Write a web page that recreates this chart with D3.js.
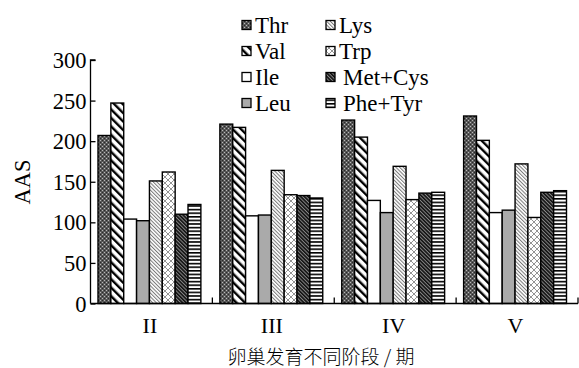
<!DOCTYPE html>
<html>
<head>
<meta charset="utf-8">
<script src="https://cdn.jsdelivr.net/npm/d3@7"></script>
<style>
  html, body { margin: 0; padding: 0; background: #fff; }
  svg text { font-family: "Liberation Serif", "Times New Roman", serif; fill: #000; }
</style>
</head>
<body>
<svg id="chart" width="579" height="368"></svg>
<script>
// Ovarian development stages and amino acid score (AAS) per essential amino acid
const stages = ["II", "III", "IV", "V"];
const aminoAcids = ["Thr", "Val", "Ile", "Leu", "Lys", "Trp", "Met+Cys", "Phe+Tyr"];
const thr    = [207, 221, 226, 231];
const val    = [247, 217, 205, 201];
const ile    = [104, 108, 127, 112];
const leu    = [102, 109, 112, 115];
const lys    = [151, 164, 169, 172];
const trp    = [162, 134, 128, 106];
const metCys = [110, 133, 136, 137];
const pheTyr = [122, 130, 137, 139];
const yTicks = [0, 50, 100, 150, 200, 250, 300];
const xTitle = "卵巢发育不同阶段 / 期";
const yTitle = "AAS";

const seriesValues = [thr, val, ile, leu, lys, trp, metCys, pheTyr];

const svg = d3.select("#chart");
const plot = { left: 90.5, right: 578, top: 60, bottom: 303.5 };

const x = d3.scaleBand().domain(stages).range([plot.left, plot.right]).padding(0);
const gw = x.bandwidth();
const xInner = d3.scaleBand().domain(aminoAcids).range([7.5, gw - 11.5]).padding(0);
const y = d3.scaleLinear().domain([0, 300]).range([plot.bottom, plot.top]);

// Fill patterns for each amino acid
const defs = svg.append("defs");
function pat(id, w, h, rot) {
  const p = defs.append("pattern").attr("id", id).attr("patternUnits", "userSpaceOnUse")
    .attr("width", w).attr("height", h);
  if (rot) p.attr("patternTransform", `rotate(${rot})`);
  return p;
}
// Thr: dark dotted texture
let p = pat("p-thr", 4, 4);
p.append("rect").attr("width", 4).attr("height", 4).attr("fill", "#585858");
[[0, 0], [2, 2]].forEach(([a, b]) => p.append("rect").attr("x", a).attr("y", b).attr("width", 1).attr("height", 1).attr("fill", "#b8b8b8"));
[[2, 0], [0, 2]].forEach(([a, b]) => p.append("rect").attr("x", a).attr("y", b).attr("width", 1).attr("height", 1).attr("fill", "#2a2a2a"));
// Val: wide "\" stripes
p = pat("p-val", 6, 6, -45);
p.append("rect").attr("width", 6).attr("height", 6).attr("fill", "#fff");
p.append("rect").attr("width", 2.4).attr("height", 6).attr("fill", "#000");
// Ile: plain white
p = pat("p-ile", 4, 4);
p.append("rect").attr("width", 4).attr("height", 4).attr("fill", "#fff");
// Leu: solid grey
p = pat("p-leu", 4, 4);
p.append("rect").attr("width", 4).attr("height", 4).attr("fill", "#aaaaaa");
// Lys: fine grey "\" hatch
p = pat("p-lys", 2.6, 2.6, -45);
p.append("rect").attr("width", 2.6).attr("height", 2.6).attr("fill", "#fff");
p.append("rect").attr("width", 1).attr("height", 2.6).attr("fill", "#777");
// Trp: zig-zag lattice on white
p = pat("p-trp", 6, 6);
p.append("rect").attr("width", 6).attr("height", 6).attr("fill", "#fff");
p.append("path").attr("d", "M0,0 L3,3 L6,0 M0,6 L3,3 L6,6").attr("stroke", "#666").attr("stroke-width", 0.7).attr("fill", "none");
// Met+Cys: dense dark "\" hatch
p = pat("p-met", 2.6, 2.6, -45);
p.append("rect").attr("width", 2.6).attr("height", 2.6).attr("fill", "#888");
p.append("rect").attr("width", 1.6).attr("height", 2.6).attr("fill", "#111");
// Phe+Tyr: horizontal stripes
p = pat("p-phe", 4, 3.6);
p.append("rect").attr("width", 4).attr("height", 3.6).attr("fill", "#fff");
p.append("rect").attr("width", 4).attr("height", 1.6).attr("fill", "#000");

const fills = ["url(#p-thr)", "url(#p-val)", "url(#p-ile)", "url(#p-leu)",
               "url(#p-lys)", "url(#p-trp)", "url(#p-met)", "url(#p-phe)"];
const color = d3.scaleOrdinal().domain(aminoAcids).range(fills);

// Bars
const rows = [];
stages.forEach((s, i) => aminoAcids.forEach((a, j) => rows.push({ stage: s, acid: a, value: seriesValues[j][i] })));
svg.append("g").selectAll("rect").data(rows).join("rect")
  .attr("x", d => x(d.stage) + xInner(d.acid))
  .attr("y", d => y(d.value))
  .attr("width", xInner.bandwidth())
  .attr("height", d => y(0) - y(d.value))
  .attr("fill", d => color(d.acid))
  .attr("stroke", "#000")
  .attr("stroke-width", 1.4);

// Y axis with inward ticks
const yAxis = svg.append("g").attr("transform", `translate(${plot.left},0)`)
  .call(d3.axisRight(y).tickValues(yTicks).tickSize(5).tickFormat(d3.format("d")));
yAxis.attr("font-family", null);
yAxis.select(".domain").attr("d", `M5,${plot.top}H0V${plot.bottom}`).attr("stroke-width", 1.3);
yAxis.selectAll(".tick line").attr("stroke-width", 1.3);
yAxis.selectAll(".tick text").attr("x", -4).attr("dy", "0.34em").attr("text-anchor", "end")
  .attr("font-size", 22.5);

// X axis: boundary ticks pointing upward, labels at group centres
const xg = svg.append("g");
xg.append("line").attr("x1", plot.left).attr("x2", plot.right)
  .attr("y1", plot.bottom).attr("y2", plot.bottom).attr("stroke", "#000").attr("stroke-width", 1.3);
const bounds = stages.map(s => x(s)).concat([plot.right]);
xg.selectAll("line.b").data(bounds.slice(1)).join("line").attr("class", "b")
  .attr("x1", d => d).attr("x2", d => d)
  .attr("y1", plot.bottom).attr("y2", plot.bottom - 6)
  .attr("stroke", "#000").attr("stroke-width", 1.3);
xg.selectAll("text").data(stages).join("text")
  .attr("x", d => x(d) + gw / 2 - 1.5)
  .attr("y", 333)
  .attr("text-anchor", "middle")
  .attr("font-size", 22)
  .text(d => d);

// Axis titles
svg.append("text")
  .attr("transform", "translate(30,182) rotate(-90)")
  .attr("text-anchor", "middle")
  .attr("font-size", 22.5)
  .text(yTitle);
svg.append("text")
  .attr("x", 321).attr("y", 364)
  .attr("text-anchor", "middle")
  .attr("font-size", 19)
  .style("font-family", "'Noto Sans CJK SC', sans-serif")
  .style("font-weight", 300)
  .text(xTitle);

// Legend in two columns of four
const leg = svg.append("g");
aminoAcids.forEach((a, i) => {
  const col = Math.floor(i / 4), row = i % 4;
  const lx = col === 0 ? 242 : 326;
  const ly = 25 + row * 26;
  const g = leg.append("g").attr("transform", `translate(${lx},${ly})`);
  g.append("rect").attr("x", 0).attr("y", -4.5).attr("width", 9).attr("height", 9)
    .attr("fill", color(a)).attr("stroke", "#000").attr("stroke-width", 1.3);
  g.append("text").attr("x", (col === 1 && i >= 6) ? 17 : 13).attr("y", 7.5)
    .attr("font-size", 23).text(a);
});
</script>
</body>
</html>
